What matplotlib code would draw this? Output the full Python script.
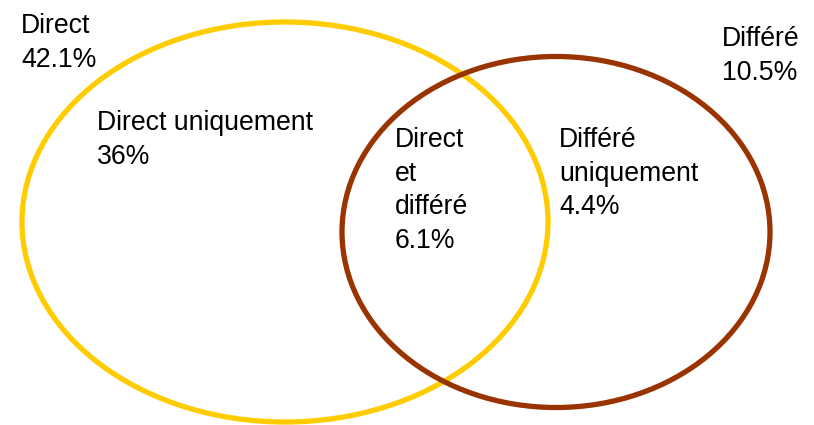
import matplotlib.pyplot as plt
from matplotlib.patches import Ellipse

plt.rcParams['font.family'] = ['Liberation Sans', 'DejaVu Sans']

# sets and their shares
set_names = ['Direct', 'Différé']
set_shares = [42.1, 10.5]
region_names = ['Direct uniquement', 'Direct\net\ndifféré', 'Différé\nuniquement']
region_shares = ['36%', '6.1%', '4.4%']

fig = plt.figure(figsize=(8.14, 4.25), dpi=100)
ax = fig.add_axes([0, 0, 1, 1])
ax.set_xlim(0, 814)
ax.set_ylim(425, 0)
ax.axis('off')

# circles (pixel layout)
ax.add_patch(Ellipse((285, 222), 526, 400, fill=False, ec='#FFCC00', lw=3.8))
ax.add_patch(Ellipse((556, 232), 428, 351, fill=False, ec='#993300', lw=3.8))

fs = 19.2
ls = 1.38
ax.text(21, 13, f'{set_names[0]}\n{set_shares[0]}%', fontsize=fs, va='top', linespacing=ls)
ax.text(722, 26, f'{set_names[1]}\n{set_shares[1]}%', fontsize=fs, va='top', linespacing=ls)

region_pos = [(97, 110), (395, 127), (559, 127)]
for (x, y), name, share in zip(region_pos, region_names, region_shares):
    ax.text(x, y, f'{name}\n{share}', fontsize=fs, va='top', linespacing=ls)

fig.savefig('out.png', dpi=100)
